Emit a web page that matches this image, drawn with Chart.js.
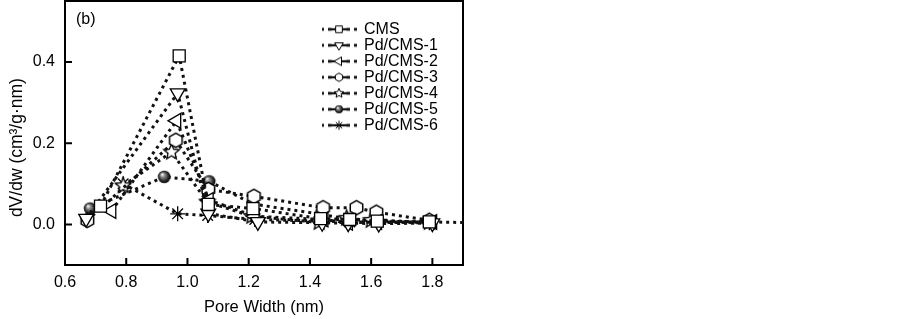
<!DOCTYPE html>
<html>
<head>
<meta charset="utf-8">
<script src="https://cdn.jsdelivr.net/npm/chart.js@4/dist/chart.umd.min.js"></script>
<style>
html,body{margin:0;padding:0;background:#fff;overflow:hidden}
canvas{display:block}
</style>
</head>
<body>
<canvas id="c" width="903" height="319"></canvas>
<script>
// ---------- data ----------
const seriesNames = ['CMS', 'Pd/CMS-1', 'Pd/CMS-2', 'Pd/CMS-3', 'Pd/CMS-4', 'Pd/CMS-5', 'Pd/CMS-6'];

const xCMS = [0.716, 0.973, 1.068, 1.214, 1.435, 1.530, 1.620, 1.790, 1.950];
const yCMS = [0.045, 0.415, 0.049, 0.039, 0.014, 0.012, 0.008, 0.006, 0.004];

const xPd1 = [0.669, 0.968, 1.068, 1.230, 1.440, 1.525, 1.625, 1.800];
const yPd1 = [0.014, 0.323, 0.027, 0.006, 0.004, 0.003, 0.002, 0.003];

const xPd2 = [0.752, 0.964, 1.070, 1.220, 1.445, 1.525, 1.620, 1.800];
const yPd2 = [0.033, 0.255, 0.060, 0.020, 0.012, 0.004, 0.006, 0.006];

const xPd3 = [0.673, 0.962, 1.068, 1.217, 1.443, 1.552, 1.617, 1.790];
const yPd3 = [0.010, 0.207, 0.086, 0.069, 0.041, 0.041, 0.030, 0.010];

const xPd4 = [0.790, 0.948, 1.065, 1.210, 1.430, 1.520, 1.600, 1.790];
const yPd4 = [0.095, 0.178, 0.055, 0.020, 0.005, 0.015, 0.010, 0.005];

const xPd5 = [0.682, 0.924, 1.071, 1.214, 1.435, 1.530, 1.620, 1.790];
const yPd5 = [0.039, 0.117, 0.106, 0.050, 0.025, 0.012, 0.009, 0.006];

const xPd6 = [0.790, 0.968, 1.066, 1.220, 1.440, 1.530, 1.620, 1.790];
const yPd6 = [0.100, 0.026, 0.022, 0.012, 0.008, 0.006, 0.005, 0.004];

const xTicks = [0.6, 0.8, 1.0, 1.2, 1.4, 1.6, 1.8];
const yTicks = [0.0, 0.2, 0.4];

// ---------- marker images ----------
const FONT = "'Liberation Sans', Arial, Helvetica, sans-serif";
function mk(w, h, draw) {
  const c = document.createElement('canvas');
  c.width = w; c.height = h;
  const g = c.getContext('2d');
  draw(g, w / 2, h / 2);
  return c;
}
function shape(g, kind, cx, cy, r, lw) {
  g.save();
  g.lineWidth = lw;
  g.strokeStyle = '#000';
  g.fillStyle = '#fff';
  g.lineJoin = 'miter';
  g.beginPath();
  if (kind === 'rect') {
    const s = r * 0.78;
    g.rect(cx - s, cy - s, 2 * s, 2 * s);
    g.fill(); g.stroke();
  } else if (kind === 'tdown' || kind === 'tleft') {
    const base = kind === 'tdown' ? Math.PI / 2 : Math.PI;
    for (let i = 0; i < 3; i++) {
      const a = base + i * 2 * Math.PI / 3;
      const px = cx + r * Math.cos(a), py = cy + r * Math.sin(a);
      i ? g.lineTo(px, py) : g.moveTo(px, py);
    }
    g.closePath(); g.fill(); g.stroke();
  } else if (kind === 'hex') {
    for (let i = 0; i < 6; i++) {
      const a = -Math.PI / 2 + i * Math.PI / 3;
      const px = cx + r * Math.cos(a), py = cy + r * Math.sin(a);
      i ? g.lineTo(px, py) : g.moveTo(px, py);
    }
    g.closePath(); g.fill(); g.stroke();
  } else if (kind === 'star5') {
    for (let i = 0; i < 10; i++) {
      const a = -Math.PI / 2 + i * Math.PI / 5;
      const rr = i % 2 ? r * 0.45 : r;
      const px = cx + rr * Math.cos(a), py = cy + rr * Math.sin(a);
      i ? g.lineTo(px, py) : g.moveTo(px, py);
    }
    g.closePath(); g.fill(); g.stroke();
  } else if (kind === 'ball') {
    const gr = g.createRadialGradient(cx - r * 0.35, cy - r * 0.4, r * 0.08, cx, cy, r);
    gr.addColorStop(0, '#f0f0f0');
    gr.addColorStop(0.3, '#8a8a8a');
    gr.addColorStop(0.75, '#262626');
    gr.addColorStop(1, '#050505');
    g.fillStyle = gr;
    g.arc(cx, cy, r, 0, Math.PI * 2);
    g.fill();
  } else if (kind === 'ast') {
    for (let i = 0; i < 4; i++) {
      const a = i * Math.PI / 4;
      g.moveTo(cx - r * Math.cos(a), cy - r * Math.sin(a));
      g.lineTo(cx + r * Math.cos(a), cy + r * Math.sin(a));
    }
    g.stroke();
  }
  g.restore();
}
const hexImg = mk(19, 19, (g, cx, cy) => shape(g, 'hex', cx, cy, 7.2, 1.5));
const starImg = mk(21, 21, (g, cx, cy) => shape(g, 'star5', cx, cy, 8.2, 1.3));
const ballImg = mk(16, 16, (g, cx, cy) => shape(g, 'ball', cx, cy, 6.3, 1));

const legendKinds = ['rect', 'tdown', 'tleft', 'hex', 'star5', 'ball', 'ast'];
const legendImgs = legendKinds.map(k => mk(36, 14, (g, cx, cy) => {
  g.fillStyle = '#111';
  [[0, 3], [7, 10.5], [25.5, 29], [33, 36]].forEach(([a, b]) => g.fillRect(a, cy - 1.4, b - a, 2.8));
  g.fillRect(10, cy - 1.1, 16, 2.2);
  const r = { rect: 4.3, tdown: 5, tleft: 5, hex: 4.2, star5: 5, ball: 4, ast: 4.5 }[k];
  shape(g, k, cx, cy, r, 1);
}));

// ---------- series ----------
const seriesX = [xCMS, xPd1, xPd2, xPd3, xPd4, xPd5, xPd6];
const seriesY = [yCMS, yPd1, yPd2, yPd3, yPd4, yPd5, yPd6];
const pStyle = ['rect', 'triangle', 'triangle', hexImg, starImg, ballImg, 'star'];
const pRadius = [8.5, 8.5, 8.5, 7, 8, 6.3, 7.5];
const pRot = [0, 180, 270, 0, 0, 0, 0];

const datasets = seriesNames.map((name, i) => ({
  label: name,
  data: seriesX[i].map((x, j) => ({ x: x, y: seriesY[i][j] })),
  showLine: true,
  borderColor: '#111',
  borderWidth: 3,
  borderDash: [3, 4],
  borderCapStyle: 'butt',
  tension: 0,
  fill: false,
  pointStyle: pStyle[i],
  pointRadius: pRadius[i],
  pointHoverRadius: pRadius[i],
  pointRotation: pRot[i],
  pointBackgroundColor: '#fff',
  pointBorderColor: '#000',
  pointBorderWidth: 1.3,
  clip: 0
}));

// ---------- plugin: frame, inward ticks, panel label, legend placement ----------
const framePlugin = {
  id: 'frame',
  afterLayout(chart) {
    const lg = chart.legend;
    if (lg) {
      const dx = 322 - lg.left, dy = 21.3 - lg.top;
      lg.left += dx; lg.right += dx; lg.top += dy; lg.bottom += dy;
    }
  },
  beforeDatasetsDraw(chart) {
    const { ctx, chartArea: a, scales } = chart;
    ctx.save();
    ctx.strokeStyle = '#000';
    ctx.lineWidth = 2;
    ctx.strokeRect(a.left, a.top, a.right - a.left, a.bottom - a.top);
    ctx.beginPath();
    xTicks.forEach(v => {
      const px = scales.x.getPixelForValue(v);
      ctx.moveTo(px, a.bottom); ctx.lineTo(px, a.bottom - 7);
    });
    yTicks.forEach(v => {
      const py = scales.y.getPixelForValue(v);
      ctx.moveTo(a.left, py); ctx.lineTo(a.left + 7, py);
    });
    ctx.stroke();
    ctx.fillStyle = '#000';
    ctx.font = '16px ' + FONT;
    ctx.textBaseline = 'middle';
    ctx.textAlign = 'left';
    ctx.fillText('(b)', 76, 20);
    ctx.restore();
  }
};

Chart.defaults.color = '#000';
Chart.defaults.font.family = FONT;

new Chart(document.getElementById('c'), {
  type: 'scatter',
  data: { datasets: datasets },
  options: {
    responsive: false,
    animation: false,
    events: [],
    layout: { autoPadding: false, padding: { top: 1, right: 440, bottom: 0, left: 0 } },
    plugins: {
      tooltip: { enabled: false },
      legend: {
        position: 'chartArea',
        align: 'start',
        labels: {
          usePointStyle: true,
          pointStyleWidth: 34,
          padding: 0,
          font: { size: 16, family: FONT },
          color: '#000',
          generateLabels(chart) {
            return chart.data.datasets.map((ds, i) => ({
              text: ds.label,
              pointStyle: legendImgs[i],
              datasetIndex: i,
              hidden: false,
              lineWidth: 0,
              strokeStyle: 'rgba(0,0,0,0)',
              fillStyle: 'rgba(0,0,0,0)',
              fontColor: '#000',
              rotation: 0
            }));
          }
        }
      }
    },
    scales: {
      x: {
        type: 'linear',
        min: 0.6, max: 1.9,
        afterFit(s) { s.height = 54; s.paddingLeft = 0; s.paddingRight = 0; },
        afterBuildTicks(s) { s.ticks = xTicks.map(v => ({ value: v })); },
        grid: { display: false, drawTicks: false, tickLength: 0 },
        border: { display: false },
        ticks: {
          padding: 8,
          autoSkip: false,
          maxRotation: 0,
          font: { size: 16, family: FONT },
          callback: v => Number(v).toFixed(1)
        },
        title: {
          display: true,
          text: 'Pore Width (nm)',
          font: { size: 16.5, family: FONT },
          padding: { top: 0, bottom: 1.5 }
        }
      },
      y: {
        type: 'linear',
        min: -0.1, max: 0.55,
        afterFit(s) { s.width = 65; s.paddingTop = 0; s.paddingBottom = 0; },
        afterBuildTicks(s) { s.ticks = yTicks.map(v => ({ value: v })); },
        grid: { display: false, drawTicks: false, tickLength: 0 },
        border: { display: false },
        ticks: {
          padding: 10,
          autoSkip: false,
          font: { size: 16, family: FONT },
          callback: v => Number(v).toFixed(1)
        },
        title: {
          display: true,
          text: 'dV/dw (cm\u00b3/g\u00b7nm)\u00a0\u00a0\u00a0\u00a0\u00a0\u00a0',
          font: { size: 17.5, family: FONT },
          padding: { top: 6.5, bottom: 0 }
        }
      }
    }
  },
  plugins: [framePlugin]
});
</script>
</body>
</html>
